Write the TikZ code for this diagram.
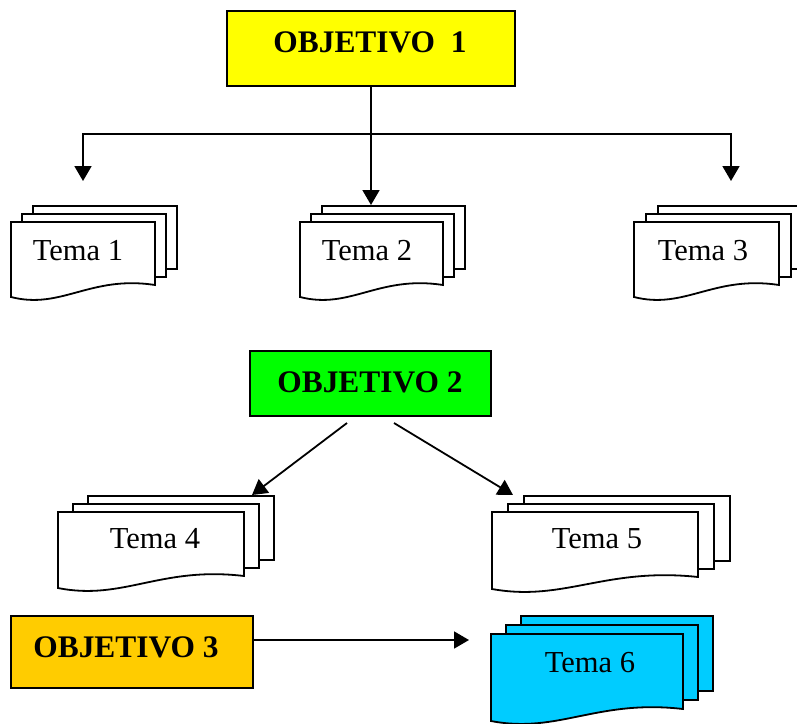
\documentclass[tikz,border=0pt]{standalone}
\usepackage{fontspec}
\setmainfont{Liberation Serif}
\usetikzlibrary{arrows.meta}
\definecolor{objyellow}{HTML}{FFFF00}
\definecolor{objgreen}{HTML}{00FF00}
\definecolor{objorange}{HTML}{FFCC00}
\definecolor{docblue}{HTML}{00CCFF}
\tikzset{
  docline/.style={draw=black, line width=1.8pt, line join=miter},
  objbox/.style={draw=black, line width=1.8pt, inner sep=0pt, outer sep=0pt, anchor=north west},
  objtext/.style={font=\fontsize{31.4}{34}\selectfont\bfseries, anchor=base, inner sep=0pt},
  tematext/.style={font=\fontsize{30.5}{34}\selectfont, anchor=base, inner sep=0pt},
  conn/.style={draw=black, line width=1.8pt},
  arr/.style={conn, -{Triangle[width=17pt,length=15pt]}},
}
% macro for a stack of three pages: L, T, W, Hr, dx, dy, fill
\newcommand\docstack[7]{%
  \foreach \k in {2,1} {\draw[docline, fill=#7] ({#1+\k*#5},{#2-\k*#6}) rectangle ++(#3,#4);}
  \draw[docline, fill=#7] (#1,{#2+#4+12}) -- (#1,#2) -- ++(#3,0) -- ++(0,#4)
    .. controls +({-0.45*#3},-10) and +({0.35*#3},13) .. (#1,{#2+#4+12}) -- cycle;
}
\begin{document}
\begin{tikzpicture}[x=1pt,y=-1pt]
\clip (0,0) rectangle (797,723);
\fill[white] (0,0) rectangle (797,723);

% ---- Objetivo 1 ----
\node[objbox, fill=objyellow, minimum width=288pt, minimum height=75pt] (o1) at (227,11) {};
\node[objtext] (o1t) at (370,52) {OBJETIVO\ \ 1};

\docstack{11}{222}{144}{63}{11}{8}{white}
\node[tematext] (t1) at (78,260) {Tema 1};
\docstack{300}{222}{143}{63}{11}{8}{white}
\node[tematext] (t2) at (367,260) {Tema 2};
\docstack{634}{222}{145}{63}{12}{8}{white}
\node[tematext] (t3) at (703,260) {Tema 3};

\coordinate (jm) at (371,134);
\coordinate (t1tip) at (83,181);
\coordinate (t2tip) at (371,205);
\coordinate (t3tip) at (731,181);
\draw[arr] (o1.south -| jm) -- (t2tip);
\draw[arr] (jm) -| (t1tip);
\draw[arr] (jm) -| (t3tip);

% ---- Objetivo 2 ----
\node[objbox, fill=objgreen, minimum width=241pt, minimum height=65pt] (o2) at (250,351) {};
\node[objtext] (o2t) at (370,392) {OBJETIVO 2};

\docstack{58}{512}{186}{64}{15}{8}{white}
\node[tematext] (t4) at (155,548) {Tema 4};
\docstack{492}{512}{206}{65}{16}{8}{white}
\node[tematext] (t5) at (597,548) {Tema 5};

\coordinate (o2l) at (347,423);
\coordinate (o2r) at (394,423);
\coordinate (t4tip) at (252,495);
\coordinate (t5tip) at (513,495);
\draw[arr] (o2l) -- (t4tip);
\draw[arr] (o2r) -- (t5tip);

% ---- Objetivo 3 ----
\node[objbox, fill=objorange, minimum width=242pt, minimum height=72pt] (o3) at (11,616) {};
\node[objtext] (o3t) at (126,657) {OBJETIVO 3};

\docstack{491}{634}{192}{75}{15}{9}{docblue}
\node[tematext] (t6) at (590,672) {Tema 6};

\coordinate (o3e) at (253,640);
\coordinate (t6tip) at (469,640);
\draw[arr] (o3e) -- (t6tip);
\end{tikzpicture}
\end{document}
